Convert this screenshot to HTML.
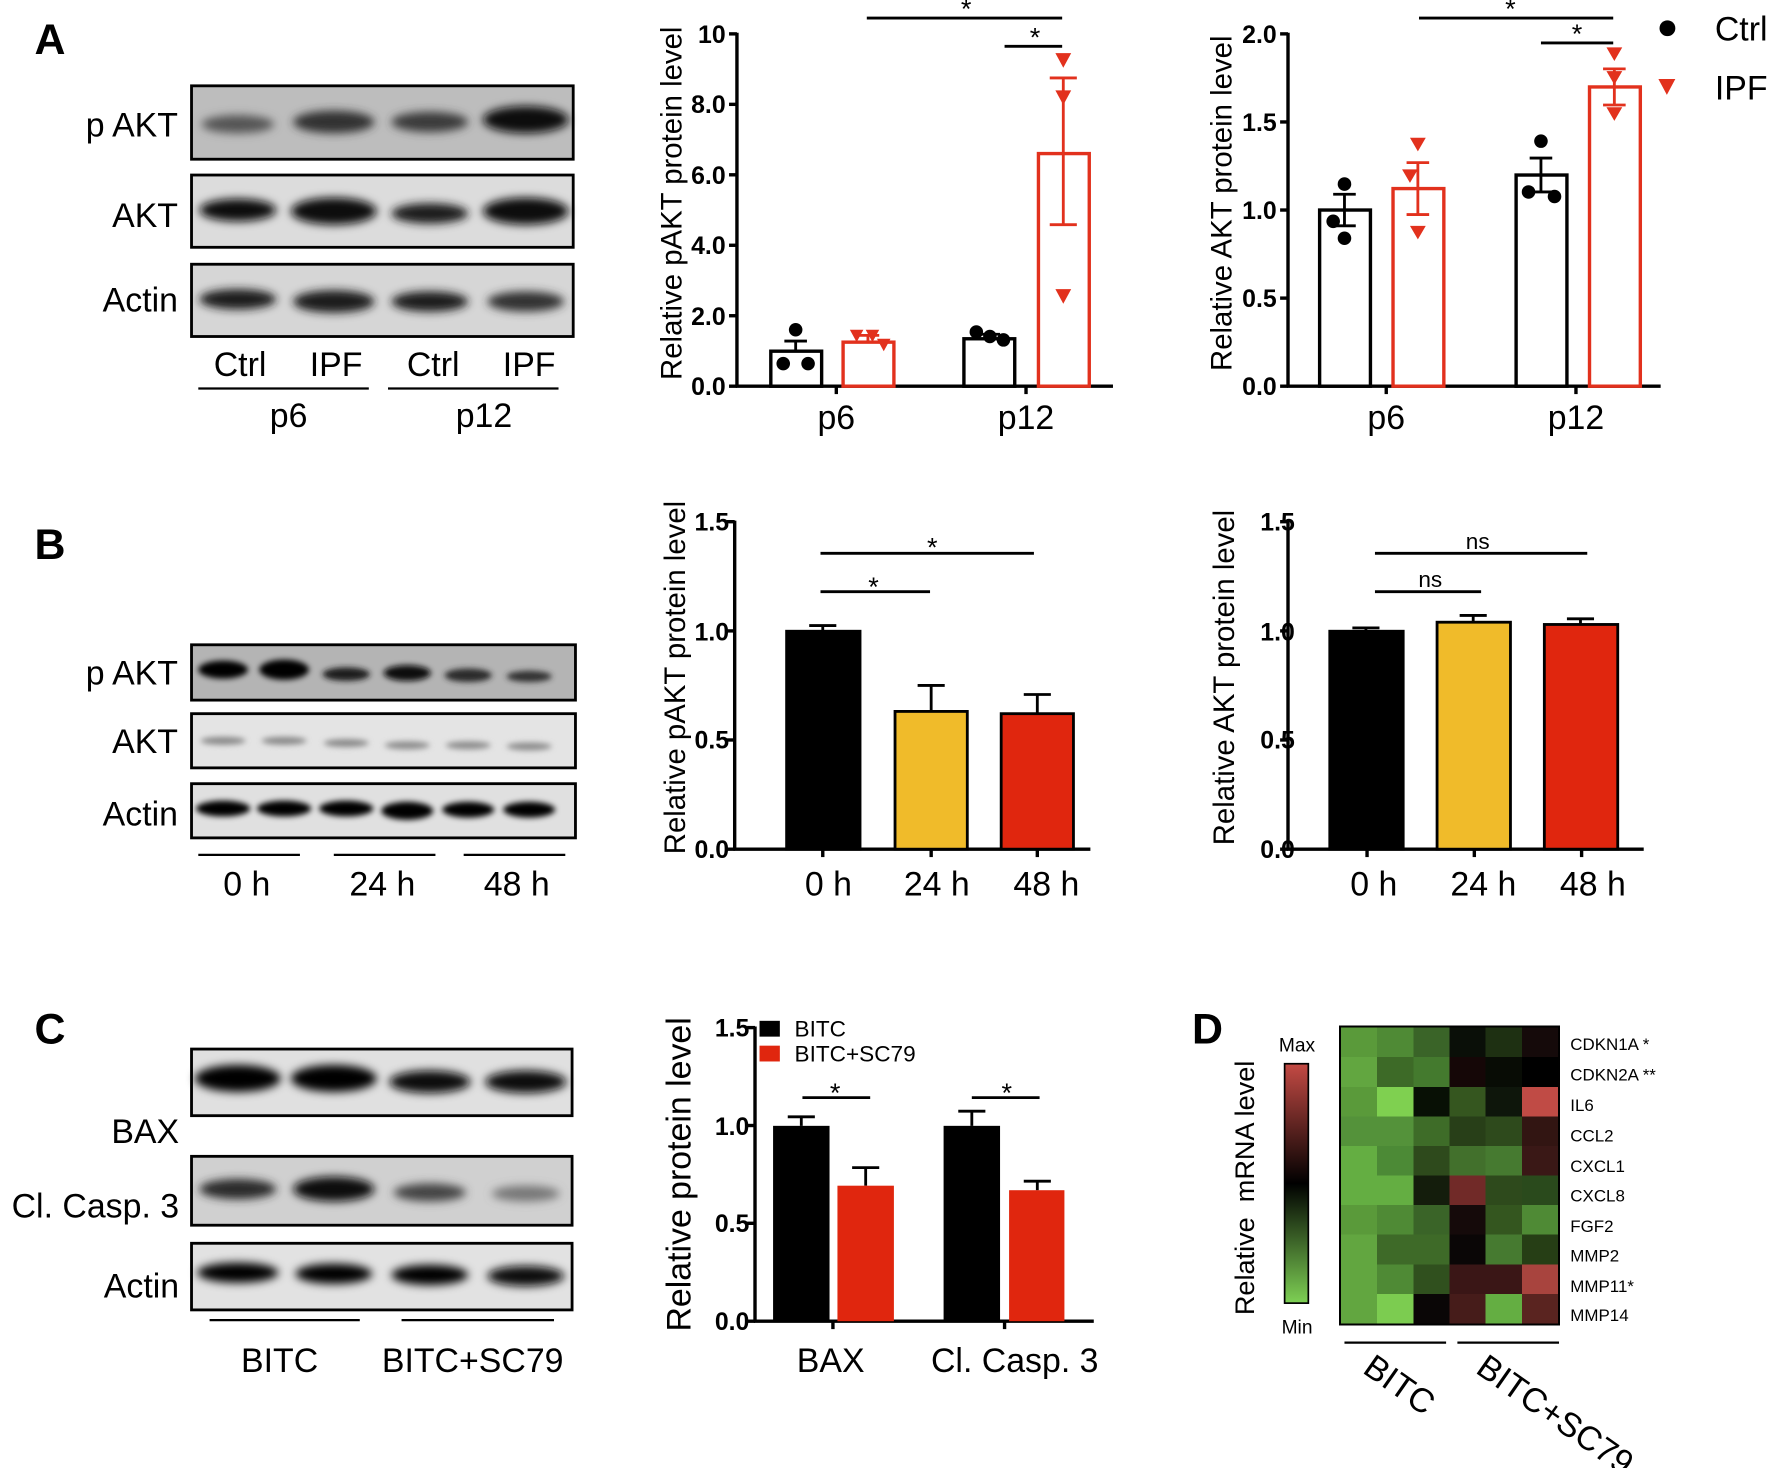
<!DOCTYPE html>
<html><head><meta charset="utf-8"><style>
html,body{margin:0;padding:0;background:#fff}
svg{display:block}
text{font-family:"Liberation Sans",Arial,sans-serif;fill:#000}
</style></head><body>
<svg width="1772" height="1468" viewBox="0 0 1568 1300" xmlns="http://www.w3.org/2000/svg">
<defs>
<filter id="bl" x="-30%" y="-100%" width="160%" height="300%"><feGaussianBlur stdDeviation="4"/></filter>
<filter id="bl2" x="-30%" y="-100%" width="160%" height="300%"><feGaussianBlur stdDeviation="2.5"/></filter>
<linearGradient id="cb" x1="0" y1="0" x2="0" y2="1">
<stop offset="0" stop-color="#c44a44"/><stop offset="0.5" stop-color="#000"/><stop offset="1" stop-color="#7ed054"/></linearGradient>
</defs>

<!-- Panel letters -->
<g font-weight="bold" font-size="38">
<text x="30" y="48">A</text><text x="30" y="495">B</text><text x="30" y="924">C</text><text x="1055" y="924">D</text></g>

<!-- ===== Panel A blots ===== -->
<g stroke="#000" stroke-width="2.5">
<rect x="169" y="76" width="338" height="65" fill="#bdbdbd"/>
<rect x="169" y="155" width="338" height="64" fill="#dcdcdc"/>
<rect x="169" y="234" width="338" height="64" fill="#d6d6d6"/></g>
<g filter="url(#bl)">
<ellipse cx="210" cy="110" rx="32" ry="8" fill="#555"/>
<ellipse cx="295" cy="108" rx="36" ry="10" fill="#333"/>
<ellipse cx="380" cy="108" rx="34" ry="9" fill="#3a3a3a"/>
<ellipse cx="465" cy="106" rx="38" ry="12" fill="#111"/>
<ellipse cx="210" cy="186" rx="34" ry="10" fill="#111"/>
<ellipse cx="295" cy="187" rx="38" ry="12" fill="#0a0a0a"/>
<ellipse cx="380" cy="189" rx="34" ry="9" fill="#1a1a1a"/>
<ellipse cx="465" cy="187" rx="38" ry="12" fill="#0a0a0a"/>
<ellipse cx="210" cy="265" rx="34" ry="9" fill="#1a1a1a"/>
<ellipse cx="295" cy="267" rx="36" ry="10" fill="#1a1a1a"/>
<ellipse cx="380" cy="267" rx="34" ry="9" fill="#1e1e1e"/>
<ellipse cx="465" cy="267" rx="34" ry="9" fill="#333"/>
</g>
<g font-size="30" text-anchor="end">
<text x="157" y="121">p AKT</text><text x="157" y="201">AKT</text><text x="157" y="276">Actin</text></g>
<g font-size="30" text-anchor="middle">
<text x="212" y="333">Ctrl</text><text x="297" y="333">IPF</text><text x="383" y="333">Ctrl</text><text x="468" y="333">IPF</text>
<text x="255" y="378">p6</text><text x="428" y="378">p12</text></g>
<g stroke="#000" stroke-width="2"><line x1="175" y1="344" x2="326" y2="344"/><line x1="343" y1="344" x2="494" y2="344"/></g>

<!-- ===== Chart A1 ===== -->
<g stroke="#000" stroke-width="3" fill="none">
<line x1="652" y1="29" x2="652" y2="343"/><line x1="651" y1="342" x2="985" y2="342"/>
<line x1="645" y1="30" x2="652" y2="30"/><line x1="645" y1="92.4" x2="652" y2="92.4"/><line x1="645" y1="154.8" x2="652" y2="154.8"/><line x1="645" y1="217.2" x2="652" y2="217.2"/><line x1="645" y1="279.6" x2="652" y2="279.6"/><line x1="645" y1="342" x2="652" y2="342"/>
<line x1="740" y1="342" x2="740" y2="349"/><line x1="908" y1="342" x2="908" y2="349"/>
</g>
<g font-size="22" font-weight="bold" text-anchor="end">
<text x="642" y="38">10</text><text x="642" y="100">8.0</text><text x="642" y="163">6.0</text><text x="642" y="225">4.0</text><text x="642" y="288">2.0</text><text x="642" y="350">0.0</text></g>
<text transform="translate(603,180) rotate(-90)" font-size="26" text-anchor="middle">Relative pAKT protein level</text>
<g font-size="30" text-anchor="middle"><text x="740" y="380">p6</text><text x="908" y="380">p12</text></g>
<g fill="#fff" stroke-width="3">
<rect x="682" y="311" width="45" height="31" stroke="#000"/>
<rect x="746" y="303" width="45" height="39" stroke="#e2311d"/>
<rect x="853" y="300" width="45" height="42" stroke="#000"/>
<rect x="919" y="136" width="45" height="206" stroke="#e2311d"/></g>
<g stroke-width="2.5">
<path d="M704 311V302M694 302H714" stroke="#000"/>
<path d="M768 303V297M758 297H778" stroke="#e2311d"/>
<path d="M875 300V296M865 296H885" stroke="#000"/>
<path d="M941 136V69M929 69H953M941 136V199M929 199H953" stroke="#e2311d"/></g>
<g fill="#000"><circle cx="704" cy="292" r="6"/><circle cx="693" cy="322" r="6"/><circle cx="715" cy="322" r="6"/>
<circle cx="864" cy="294" r="6"/><circle cx="876" cy="298" r="6"/><circle cx="888" cy="301" r="6"/></g>
<g fill="#e2311d"><path d="M752 292h12l-6 11z M766 292h12l-6 11z M776 300h12l-6 11z M934 47h14l-7 13z M934 80h14l-7 13z M934 256h14l-7 13z"/></g>
<g stroke="#000" stroke-width="2.5"><line x1="767" y1="16" x2="940" y2="16"/><line x1="889" y1="41" x2="940" y2="41"/></g>
<g font-size="24" text-anchor="middle"><text x="855" y="16">*</text><text x="916" y="41">*</text></g>

<!-- ===== Chart A2 ===== -->
<g stroke="#000" stroke-width="3" fill="none">
<line x1="1140" y1="29" x2="1140" y2="343"/><line x1="1139" y1="342" x2="1470" y2="342"/>
<line x1="1133" y1="30" x2="1140" y2="30"/><line x1="1133" y1="108" x2="1140" y2="108"/><line x1="1133" y1="186" x2="1140" y2="186"/><line x1="1133" y1="264" x2="1140" y2="264"/><line x1="1133" y1="342" x2="1140" y2="342"/>
<line x1="1227" y1="342" x2="1227" y2="349"/><line x1="1395" y1="342" x2="1395" y2="349"/>
</g>
<g font-size="22" font-weight="bold" text-anchor="end">
<text x="1130" y="38">2.0</text><text x="1130" y="116">1.5</text><text x="1130" y="194">1.0</text><text x="1130" y="272">0.5</text><text x="1130" y="350">0.0</text></g>
<text transform="translate(1090,180) rotate(-90)" font-size="26" text-anchor="middle">Relative AKT protein level</text>
<g font-size="30" text-anchor="middle"><text x="1227" y="380">p6</text><text x="1395" y="380">p12</text></g>
<g fill="#fff" stroke-width="3">
<rect x="1168" y="186" width="45" height="156" stroke="#000"/>
<rect x="1233" y="167" width="45" height="175" stroke="#e2311d"/>
<rect x="1342" y="155" width="45" height="187" stroke="#000"/>
<rect x="1407" y="77" width="45" height="265" stroke="#e2311d"/></g>
<g stroke-width="2.5">
<path d="M1190 186V172M1180 172H1200M1190 186V200M1180 200H1200" stroke="#000"/>
<path d="M1255 167V144M1245 144H1265M1255 167V190M1245 190H1265" stroke="#e2311d"/>
<path d="M1364 155V140M1354 140H1374M1364 155V170M1354 170H1374" stroke="#000"/>
<path d="M1429 77V61M1419 61H1439M1429 77V93M1419 93H1439" stroke="#e2311d"/></g>
<g fill="#000"><circle cx="1190" cy="163" r="6"/><circle cx="1180" cy="196" r="6"/><circle cx="1190" cy="211" r="6"/>
<circle cx="1364" cy="125" r="6"/><circle cx="1353" cy="170" r="6"/><circle cx="1376" cy="174" r="6"/></g>
<g fill="#e2311d"><path d="M1248 122h14l-7 12z M1241 150h14l-7 12z M1248 200h14l-7 12z M1422 42h14l-7 12z M1422 63h14l-7 12z M1422 95h14l-7 12z"/></g>
<g stroke="#000" stroke-width="2.5"><line x1="1256" y1="16" x2="1428" y2="16"/><line x1="1364" y1="38" x2="1428" y2="38"/></g>
<g font-size="24" text-anchor="middle"><text x="1337" y="16">*</text><text x="1396" y="38">*</text></g>
<circle cx="1476" cy="25" r="7" fill="#000"/><text x="1518" y="36" font-size="30">Ctrl</text>
<path d="M1468 70h15l-7.5 14z" fill="#e2311d"/><text x="1518" y="88" font-size="30">IPF</text>

<!-- ===== Panel B blots ===== -->
<g stroke="#000" stroke-width="2.5">
<rect x="169" y="571" width="340" height="49" fill="#b4b4b4"/>
<rect x="169" y="632" width="340" height="48" fill="#e4e4e4"/>
<rect x="169" y="694" width="340" height="48" fill="#e0e0e0"/></g>
<g filter="url(#bl2)">
<ellipse cx="197" cy="593" rx="22" ry="8" fill="#050505"/><ellipse cx="251" cy="593" rx="22" ry="9" fill="#050505"/>
<ellipse cx="306" cy="597" rx="21" ry="6" fill="#1a1a1a"/><ellipse cx="360" cy="596" rx="21" ry="7" fill="#0a0a0a"/>
<ellipse cx="414" cy="598" rx="21" ry="6" fill="#2a2a2a"/><ellipse cx="468" cy="599" rx="20" ry="5" fill="#333"/>
<ellipse cx="197" cy="656" rx="20" ry="3.5" fill="#888"/><ellipse cx="251" cy="656" rx="20" ry="3.5" fill="#888"/>
<ellipse cx="306" cy="658" rx="20" ry="3.5" fill="#888"/><ellipse cx="360" cy="660" rx="20" ry="3.5" fill="#8c8c8c"/>
<ellipse cx="414" cy="660" rx="20" ry="3.5" fill="#8c8c8c"/><ellipse cx="468" cy="661" rx="20" ry="3.5" fill="#8c8c8c"/>
<ellipse cx="197" cy="716" rx="24" ry="7" fill="#000"/><ellipse cx="251" cy="716" rx="24" ry="7" fill="#000"/>
<ellipse cx="306" cy="716" rx="24" ry="7" fill="#000"/><ellipse cx="360" cy="718" rx="23" ry="8" fill="#000"/>
<ellipse cx="414" cy="717" rx="23" ry="7" fill="#000"/><ellipse cx="468" cy="717" rx="23" ry="7" fill="#000"/>
</g>
<g font-size="30" text-anchor="end">
<text x="157" y="606">p AKT</text><text x="157" y="667">AKT</text><text x="157" y="731">Actin</text></g>
<g stroke="#000" stroke-width="2"><line x1="175" y1="757" x2="265" y2="757"/><line x1="295" y1="757" x2="385" y2="757"/><line x1="410" y1="757" x2="500" y2="757"/></g>
<g font-size="30" text-anchor="middle"><text x="218" y="793">0 h</text><text x="338" y="793">24 h</text><text x="457" y="793">48 h</text></g>

<!-- ===== Chart B1 ===== -->
<g stroke="#000" stroke-width="3" fill="none">
<line x1="650" y1="461" x2="650" y2="753"/><line x1="649" y1="752" x2="965" y2="752"/>
<line x1="643" y1="462" x2="650" y2="462"/><line x1="643" y1="558.7" x2="650" y2="558.7"/><line x1="643" y1="655.3" x2="650" y2="655.3"/><line x1="643" y1="752" x2="650" y2="752"/>
<line x1="728" y1="752" x2="728" y2="759"/><line x1="824" y1="752" x2="824" y2="759"/><line x1="918" y1="752" x2="918" y2="759"/></g>
<g font-size="22" font-weight="bold" text-anchor="end">
<text x="645" y="470">1.5</text><text x="645" y="567">1.0</text><text x="645" y="663">0.5</text><text x="645" y="760">0.0</text></g>
<text transform="translate(606,600) rotate(-90)" font-size="26" text-anchor="middle">Relative pAKT protein level</text>
<g stroke="#000" stroke-width="2.5">
<path d="M728 559V554M716 554H740M824 630V607M812 607H836M918 632V615M906 615H930"/>
<rect x="696" y="559" width="65" height="193" fill="#000"/>
<rect x="792" y="630" width="64" height="122" fill="#f0bb2a"/>
<rect x="886" y="632" width="64" height="120" fill="#e0260e"/>
<line x1="726" y1="524" x2="823" y2="524"/><line x1="726" y1="490" x2="915" y2="490"/></g>
<g font-size="24" text-anchor="middle"><text x="773" y="528">*</text><text x="825" y="493">*</text></g>
<g font-size="30" text-anchor="middle"><text x="733" y="793">0 h</text><text x="829" y="793">24 h</text><text x="926" y="793">48 h</text></g>

<!-- ===== Chart B2 ===== -->
<g stroke="#000" stroke-width="3" fill="none">
<line x1="1140" y1="461" x2="1140" y2="753"/><line x1="1139" y1="752" x2="1455" y2="752"/>
<line x1="1133" y1="462" x2="1140" y2="462"/><line x1="1133" y1="558.7" x2="1140" y2="558.7"/><line x1="1133" y1="655.3" x2="1140" y2="655.3"/><line x1="1133" y1="752" x2="1140" y2="752"/>
<line x1="1210" y1="752" x2="1210" y2="759"/><line x1="1305" y1="752" x2="1305" y2="759"/><line x1="1400" y1="752" x2="1400" y2="759"/></g>
<g font-size="22" font-weight="bold" text-anchor="end">
<text x="1146" y="470">1.5</text><text x="1146" y="567">1.0</text><text x="1146" y="663">0.5</text><text x="1146" y="760">0.0</text></g>
<text transform="translate(1092,600) rotate(-90)" font-size="26" text-anchor="middle">Relative AKT protein level</text>
<g stroke="#000" stroke-width="2.5">
<path d="M1209 559V556M1197 556H1221M1304 551V545M1292 545H1316M1399 553V548M1387 548H1411"/>
<rect x="1177" y="559" width="65" height="193" fill="#000"/>
<rect x="1272" y="551" width="65" height="201" fill="#f0bb2a"/>
<rect x="1367" y="553" width="65" height="199" fill="#e0260e"/>
<line x1="1217" y1="524" x2="1311" y2="524"/><line x1="1217" y1="490" x2="1405" y2="490"/></g>
<g font-size="20" text-anchor="middle"><text x="1266" y="520">ns</text><text x="1308" y="486">ns</text></g>
<g font-size="30" text-anchor="middle"><text x="1216" y="793">0 h</text><text x="1313" y="793">24 h</text><text x="1410" y="793">48 h</text></g>

<!-- ===== Panel C blots ===== -->
<g stroke="#000" stroke-width="2.5">
<rect x="169" y="929" width="337" height="59" fill="#e0e0e0"/>
<rect x="169" y="1024" width="337" height="61" fill="#d0d0d0"/>
<rect x="169" y="1101" width="337" height="59" fill="#e2e2e2"/></g>
<g filter="url(#bl)">
<ellipse cx="210" cy="955" rx="38" ry="12" fill="#000"/><ellipse cx="295" cy="955" rx="38" ry="12" fill="#000"/>
<ellipse cx="380" cy="958" rx="36" ry="10" fill="#080808"/><ellipse cx="465" cy="958" rx="36" ry="10" fill="#0a0a0a"/>
<ellipse cx="210" cy="1053" rx="34" ry="9" fill="#2a2a2a"/><ellipse cx="295" cy="1053" rx="36" ry="11" fill="#111"/>
<ellipse cx="380" cy="1056" rx="32" ry="8" fill="#444"/><ellipse cx="465" cy="1057" rx="30" ry="7" fill="#777"/>
<ellipse cx="210" cy="1127" rx="36" ry="9" fill="#000"/><ellipse cx="295" cy="1128" rx="34" ry="9" fill="#000"/>
<ellipse cx="380" cy="1129" rx="34" ry="9" fill="#050505"/><ellipse cx="465" cy="1130" rx="34" ry="9" fill="#0a0a0a"/>
</g>
<g font-size="30" text-anchor="end">
<text x="158" y="1012">BAX</text><text x="158" y="1078">Cl. Casp. 3</text><text x="158" y="1149">Actin</text></g>
<g stroke="#000" stroke-width="2"><line x1="185" y1="1169" x2="318" y2="1169"/><line x1="355" y1="1169" x2="490" y2="1169"/></g>
<g font-size="30" text-anchor="middle"><text x="247" y="1215">BITC</text><text x="418" y="1215">BITC+SC79</text></g>

<!-- ===== Chart C ===== -->
<g stroke="#000" stroke-width="3" fill="none">
<line x1="668" y1="909" x2="668" y2="1171"/><line x1="667" y1="1170" x2="968" y2="1170"/>
<line x1="661" y1="910" x2="668" y2="910"/><line x1="661" y1="996.7" x2="668" y2="996.7"/><line x1="661" y1="1083.3" x2="668" y2="1083.3"/><line x1="661" y1="1170" x2="668" y2="1170"/>
<line x1="737" y1="1170" x2="737" y2="1177"/><line x1="889" y1="1170" x2="889" y2="1177"/></g>
<g font-size="22" font-weight="bold" text-anchor="end">
<text x="663" y="918">1.5</text><text x="663" y="1005">1.0</text><text x="663" y="1091">0.5</text><text x="663" y="1178">0.0</text></g>
<text transform="translate(611,1040) rotate(-90)" font-size="30" text-anchor="middle">Relative protein level</text>
<g stroke="#000" stroke-width="2.5">
<path d="M709 997V989M697 989H721M766 1050V1034M754 1034H778M860 997V984M848 984H872M918 1054V1046M906 1046H930"/>
<line x1="710" y1="972" x2="770" y2="972"/><line x1="860" y1="972" x2="920" y2="972"/></g>
<rect x="684" y="997" width="50" height="173" fill="#000"/>
<rect x="741" y="1050" width="50" height="120" fill="#e0260e"/>
<rect x="835" y="997" width="50" height="173" fill="#000"/>
<rect x="893" y="1054" width="49" height="116" fill="#e0260e"/>
<g font-size="24" text-anchor="middle"><text x="739" y="976">*</text><text x="891" y="976">*</text></g>
<rect x="672" y="904" width="18" height="14" fill="#000"/><text x="703" y="918" font-size="20">BITC</text>
<rect x="672" y="926" width="18" height="14" fill="#e0260e"/><text x="703" y="940" font-size="20">BITC+SC79</text>
<g font-size="30" text-anchor="middle"><text x="735" y="1215">BAX</text><text x="898" y="1215">Cl. Casp. 3</text></g>

<!-- ===== Panel D heatmap ===== -->
<rect x="1137" y="942" width="21" height="212" fill="url(#cb)" stroke="#000" stroke-width="1.5"/>
<g font-size="17" text-anchor="middle"><text x="1148" y="931">Max</text><text x="1148" y="1181">Min</text></g>
<text transform="translate(1110,1052) rotate(-90)" font-size="24" text-anchor="middle" xml:space="preserve">Relative  mRNA level</text>
<g shape-rendering="crispEdges">
<rect x="1185" y="908" width="196" height="266" fill="#000"/>
<g transform="translate(1187,910)">
<rect x="0" y="0" width="32" height="26.2" fill="#5a9a3a"/><rect x="32" y="0" width="32" height="26.2" fill="#4f8a35"/><rect x="64" y="0" width="32" height="26.2" fill="#3a6428"/><rect x="96" y="0" width="32" height="26.2" fill="#0a0f08"/><rect x="128" y="0" width="32" height="26.2" fill="#1e3012"/><rect x="160" y="0" width="32" height="26.2" fill="#150a0a"/>
<rect x="0" y="26.2" width="32" height="26.2" fill="#62a640"/><rect x="32" y="26.2" width="32" height="26.2" fill="#3d6a27"/><rect x="64" y="26.2" width="32" height="26.2" fill="#447a2e"/><rect x="96" y="26.2" width="32" height="26.2" fill="#150707"/><rect x="128" y="26.2" width="32" height="26.2" fill="#080c05"/><rect x="160" y="26.2" width="32" height="26.2" fill="#000"/>
<rect x="0" y="52.4" width="32" height="26.2" fill="#5a9a3a"/><rect x="32" y="52.4" width="32" height="26.2" fill="#7fd050"/><rect x="64" y="52.4" width="32" height="26.2" fill="#081005"/><rect x="96" y="52.4" width="32" height="26.2" fill="#35561f"/><rect x="128" y="52.4" width="32" height="26.2" fill="#0e160b"/><rect x="160" y="52.4" width="32" height="26.2" fill="#c04b45"/>
<rect x="0" y="78.6" width="32" height="26.2" fill="#54923a"/><rect x="32" y="78.6" width="32" height="26.2" fill="#54923a"/><rect x="64" y="78.6" width="32" height="26.2" fill="#3e6c28"/><rect x="96" y="78.6" width="32" height="26.2" fill="#283f18"/><rect x="128" y="78.6" width="32" height="26.2" fill="#2e4a1c"/><rect x="160" y="78.6" width="32" height="26.2" fill="#321512"/>
<rect x="0" y="104.8" width="32" height="26.2" fill="#64ae42"/><rect x="32" y="104.8" width="32" height="26.2" fill="#4c8a36"/><rect x="64" y="104.8" width="32" height="26.2" fill="#2e4a1c"/><rect x="96" y="104.8" width="32" height="26.2" fill="#42702c"/><rect x="128" y="104.8" width="32" height="26.2" fill="#467a30"/><rect x="160" y="104.8" width="32" height="26.2" fill="#3a1816"/>
<rect x="0" y="131" width="32" height="26.2" fill="#64ae42"/><rect x="32" y="131" width="32" height="26.2" fill="#64ae42"/><rect x="64" y="131" width="32" height="26.2" fill="#141d0c"/><rect x="96" y="131" width="32" height="26.2" fill="#712a28"/><rect x="128" y="131" width="32" height="26.2" fill="#2e4a1c"/><rect x="160" y="131" width="32" height="26.2" fill="#2a4a1c"/>
<rect x="0" y="157.2" width="32" height="26.2" fill="#5a9a3a"/><rect x="32" y="157.2" width="32" height="26.2" fill="#4f8a35"/><rect x="64" y="157.2" width="32" height="26.2" fill="#3a6428"/><rect x="96" y="157.2" width="32" height="26.2" fill="#150a0a"/><rect x="128" y="157.2" width="32" height="26.2" fill="#34561f"/><rect x="160" y="157.2" width="32" height="26.2" fill="#4f8a35"/>
<rect x="0" y="183.4" width="32" height="26.2" fill="#62a640"/><rect x="32" y="183.4" width="32" height="26.2" fill="#3e6a28"/><rect x="64" y="183.4" width="32" height="26.2" fill="#3e6a28"/><rect x="96" y="183.4" width="32" height="26.2" fill="#0a0606"/><rect x="128" y="183.4" width="32" height="26.2" fill="#467a30"/><rect x="160" y="183.4" width="32" height="26.2" fill="#263e15"/>
<rect x="0" y="209.6" width="32" height="26.2" fill="#62a640"/><rect x="32" y="209.6" width="32" height="26.2" fill="#4f8a35"/><rect x="64" y="209.6" width="32" height="26.2" fill="#30501e"/><rect x="96" y="209.6" width="32" height="26.2" fill="#3a1616"/><rect x="128" y="209.6" width="32" height="26.2" fill="#3a1616"/><rect x="160" y="209.6" width="32" height="26.2" fill="#a8443e"/>
<rect x="0" y="235.8" width="32" height="26.2" fill="#62a640"/><rect x="32" y="235.8" width="32" height="26.2" fill="#7ccc50"/><rect x="64" y="235.8" width="32" height="26.2" fill="#0a0606"/><rect x="96" y="235.8" width="32" height="26.2" fill="#461c1a"/><rect x="128" y="235.8" width="32" height="26.2" fill="#64ae42"/><rect x="160" y="235.8" width="32" height="26.2" fill="#5a2420"/>
</g></g>
<g font-size="15">
<text x="1390" y="930">CDKN1A  *</text><text x="1390" y="957">CDKN2A **</text><text x="1390" y="984">IL6</text>
<text x="1390" y="1011">CCL2</text><text x="1390" y="1038">CXCL1</text><text x="1390" y="1064">CXCL8</text>
<text x="1390" y="1091">FGF2</text><text x="1390" y="1117">MMP2</text><text x="1390" y="1144">MMP11*</text><text x="1390" y="1170">MMP14</text></g>
<g stroke="#000" stroke-width="2"><line x1="1190" y1="1189" x2="1280" y2="1189"/><line x1="1290" y1="1189" x2="1380" y2="1189"/></g>
<g font-size="30"><text transform="translate(1205,1215) rotate(35)">BITC</text><text transform="translate(1305,1215) rotate(35)">BITC+SC79</text></g>
</svg>
</body></html>
